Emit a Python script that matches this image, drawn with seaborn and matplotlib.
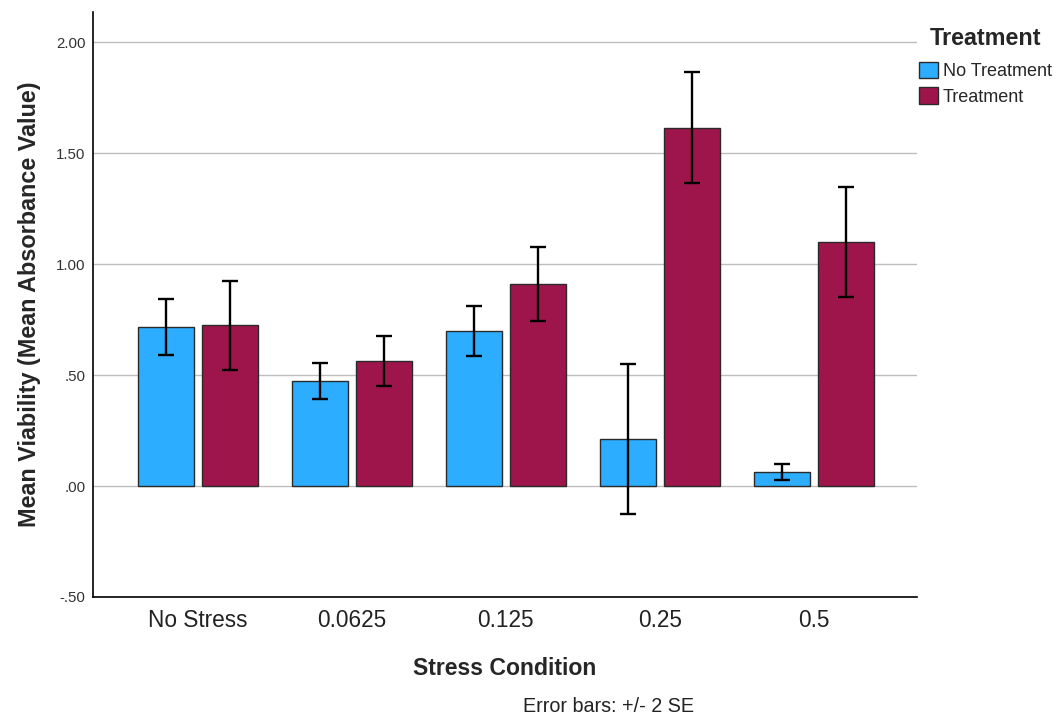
import numpy as np
import pandas as pd
import matplotlib
matplotlib.use("Agg")
import matplotlib.pyplot as plt
import seaborn as sns
from matplotlib.ticker import FuncFormatter

# values
conditions = ["No Stress", "0.0625", "0.125", "0.25", "0.5"]
treatments = ["No Treatment", "Treatment"]
mean_no_treat = [0.718, 0.474, 0.698, 0.212, 0.065]
mean_treat = [0.725, 0.562, 0.910, 1.614, 1.100]
# half-length of error bars (2 SE)
err_no_treat = [0.126, 0.080, 0.112, 0.337, 0.036]
err_treat = [0.200, 0.112, 0.167, 0.250, 0.247]

palette = {"No Treatment": "#2DADFF", "Treatment": "#9E154B"}

df = pd.DataFrame({
    "Stress Condition": conditions * 2,
    "Treatment": [treatments[0]] * len(conditions) + [treatments[1]] * len(conditions),
    "Mean": mean_no_treat + mean_treat,
    "Err": err_no_treat + err_treat,
})

sns.set_style("white")
plt.rcParams["font.family"] = ["Liberation Sans", "DejaVu Sans"]

fig = plt.figure(figsize=(10.6, 7.23), dpi=100)
ax = fig.add_axes([0.0877, 0.1743, 0.7774, 0.8087])

sns.barplot(data=df, x="Stress Condition", y="Mean", hue="Treatment",
            order=conditions, hue_order=treatments, palette=palette,
            width=0.83, gap=0.125, errorbar=None, saturation=1,
            edgecolor="#2a2a2a", linewidth=1.0, ax=ax, zorder=3)

# error bars at the centres of the drawn bars
for cont, t in zip(ax.containers, treatments):
    sub = df[df["Treatment"] == t].set_index("Stress Condition").loc[conditions]
    xs = [p.get_x() + p.get_width() / 2 for p in cont.patches]
    ax.errorbar(xs, sub["Mean"].values, yerr=sub["Err"].values, fmt="none",
                ecolor="black", elinewidth=1.7, capsize=6, capthick=1.7, zorder=4)

ax.set_ylim(-0.5, 2.135)
ax.set_xlim(-0.68, 4.67)
ax.set_yticks([-0.5, 0, 0.5, 1.0, 1.5, 2.0])
ax.yaxis.set_major_formatter(FuncFormatter(
    lambda v, p: f"{v:.2f}".replace("0.", ".", 1) if abs(v) < 1 else f"{v:.2f}"))
ax.yaxis.grid(True, color="#BEBEBE", linewidth=1.0, zorder=0)
ax.xaxis.grid(False)
ax.set_axisbelow(True)
ax.tick_params(axis="both", length=0)
ax.tick_params(axis="y", labelsize=10.8, pad=5.5, colors="#333333")
ax.tick_params(axis="x", labelsize=16.3, pad=9, colors="#222222")

for side in ["top", "right"]:
    ax.spines[side].set_visible(False)
for side in ["left", "bottom"]:
    ax.spines[side].set_color("black")
    ax.spines[side].set_linewidth(1.2)

ax.set_xlabel("Stress Condition", fontsize=16.6, fontweight="bold", va="top")
ax.xaxis.set_label_coords(0.5, -0.102)
ax.set_ylabel("Mean Viability (Mean Absorbance Value)", fontsize=16.8,
              fontweight="bold", labelpad=11)

handles, labels = ax.get_legend_handles_labels()
leg = ax.legend(handles, labels, title="Treatment", loc="upper left",
                bbox_to_anchor=(0.867, 0.962), bbox_transform=fig.transFigure,
                frameon=False, fontsize=13, handlelength=1.05, handleheight=1.05,
                handletextpad=0.28, labelspacing=0.39, borderpad=0,
                borderaxespad=0)
leg.get_title().set_fontsize(16.8)
leg.get_title().set_fontweight("bold")
leg._legend_box.sep = 8

fig.text(0.5736, 0.0152, "Error bars: +/- 2 SE", ha="center", va="baseline",
         fontsize=14.2, color="#222222")

fig.savefig("out.png", dpi=100)
